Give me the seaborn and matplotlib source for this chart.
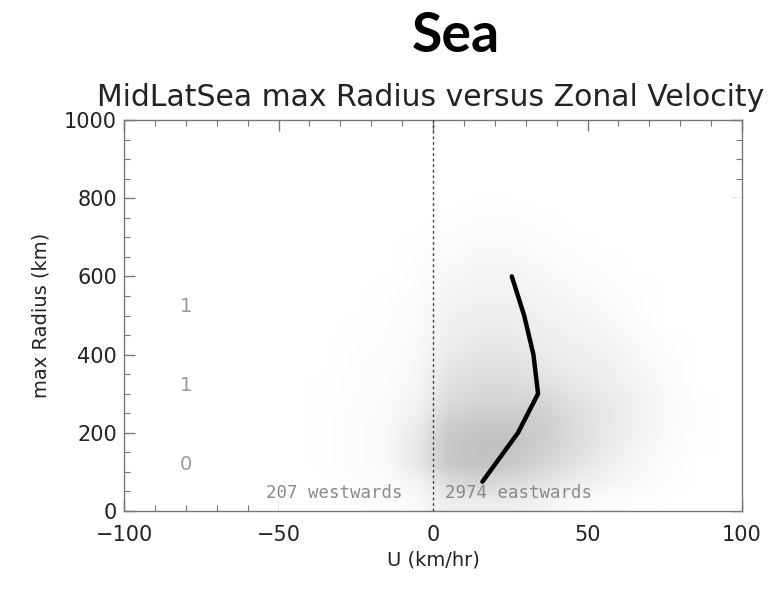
import numpy as np
import pandas as pd
import matplotlib
matplotlib.use("Agg")
import matplotlib.pyplot as plt
from matplotlib.colors import LinearSegmentedColormap
import seaborn as sns

# ---- data ----
# binned mean zonal velocity per radius (black curve)
curve_radius = [75, 200, 300, 400, 500, 600]
curve_u = [16, 27.5, 34, 32.5, 29.5, 25.5]

# relative point density of the scatter cloud (estimated), 10 km/hr x 50 km cells
dens_x_edges = list(range(-50, 101, 10))
dens_y_edges = list(range(0, 801, 50))
dens_rows = [
    [0, 0, 0.2, 0.5, 1, 3, 3, 3, 2, 1, 0.5, 0.2, 0, 0, 0],        # 0-50
    [0, 0, 0.3, 0.6, 2, 6, 7, 6, 5, 3, 2, 1, 0.3, 0, 0],          # 50-100
    [0, 0.1, 0.5, 1, 4, 9, 10, 9, 7, 5, 3, 1.5, 0.5, 0, 0],       # 100-150
    [0, 0.1, 0.5, 1, 4, 9, 10, 10, 8, 6, 4, 2, 0.8, 0.2, 0],      # 150-200
    [0, 0.1, 0.5, 1, 3, 8, 9, 9, 8, 6, 4, 2.5, 1, 0.2, 0],        # 200-250
    [0, 0.1, 0.4, 0.8, 2, 6, 7, 7, 7, 5, 4, 2.5, 1, 0.2, 0],      # 250-300
    [0, 0.1, 0.3, 0.6, 1.5, 5, 6, 6, 5, 4, 3, 2, 0.8, 0, 0],      # 300-350
    [0, 0, 0.3, 0.5, 1.2, 4, 5, 5, 4, 3, 2.5, 1.5, 0.5, 0, 0],    # 350-400
    [0, 0, 0.2, 0.4, 1, 3, 4, 4, 3, 2.5, 2, 1, 0.3, 0, 0],        # 400-450
    [0, 0, 0.1, 0.3, 0.8, 2.5, 3, 3, 2.5, 2, 1.5, 0.5, 0, 0, 0],  # 450-500
    [0, 0, 0, 0.2, 0.6, 2, 2.5, 2.5, 2, 1.5, 1, 0.3, 0, 0, 0],    # 500-550
    [0, 0, 0, 0.1, 0.4, 1.5, 2, 2, 1.5, 1, 0.5, 0.2, 0, 0, 0],    # 550-600
    [0, 0, 0, 0, 0.3, 1, 1.5, 1.5, 1, 0.5, 0.3, 0, 0, 0, 0],      # 600-650
    [0, 0, 0, 0, 0.2, 0.5, 1, 1, 0.5, 0.3, 0, 0, 0, 0, 0],        # 650-700
    [0, 0, 0, 0, 0, 0.3, 0.5, 0.5, 0.3, 0, 0, 0, 0, 0, 0],        # 700-750
    [0, 0, 0, 0, 0, 0, 0.2, 0.2, 0, 0, 0, 0, 0, 0, 0],            # 750-800
]

# side annotations
side_labels = ["1", "1", "0"]
side_label_y = [524, 320, 118]
side_label_x = -80
west_count = 207
east_count = 2974

x_ticks = [-100, -50, 0, 50, 100]
y_ticks = [0, 200, 400, 600, 800, 1000]

# ---- drawing ----
sns.set_style("ticks")
plt.rcParams["font.family"] = ["DejaVu Sans"]

fig = plt.figure(figsize=(7.70, 5.89), dpi=100)
W, H = 770, 589
ax = fig.add_axes([124 / W, 1 - 511 / H, (742 - 124) / W, (511 - 120) / H])

cmap = LinearSegmentedColormap.from_list("cloud", ["#ffffff", "#c2c2c2"])
dens = np.array(dens_rows, dtype=float)
ax.imshow(dens, origin="lower", cmap=cmap, vmin=0, vmax=10,
          extent=[dens_x_edges[0], dens_x_edges[-1], dens_y_edges[0], dens_y_edges[-1]],
          interpolation="bilinear", aspect="auto", zorder=1)

df = pd.DataFrame({"u": curve_u, "r": curve_radius})
sns.lineplot(data=df, x="u", y="r", sort=False, color="black", linewidth=3.2,
             ax=ax, zorder=4)

ax.axvline(0, color="#444444", linestyle=(0, (2, 2)), linewidth=1.0, zorder=3)

for lab, yy in zip(side_labels, side_label_y):
    ax.text(side_label_x, yy, lab, color="#9a9a9a", fontsize=14,
            ha="center", va="center", zorder=5)

ax.text(-10, 46, f"{west_count} westwards", color="#8a8a8a", fontsize=12.5,
        ha="right", va="center", family="DejaVu Sans Mono", zorder=5)
ax.text(4, 46, f"{east_count} eastwards", color="#8a8a8a", fontsize=12.5,
        ha="left", va="center", family="DejaVu Sans Mono", zorder=5)

ax.set_xlim(-100, 100)
ax.set_ylim(0, 1000)
ax.set_xticks(x_ticks)
ax.set_yticks(y_ticks)
ax.set_xticks(np.arange(-100, 101, 10), minor=True)
ax.set_yticks(np.arange(0, 1001, 50), minor=True)
ax.tick_params(which="both", direction="in", top=True, right=True,
               colors="#777777", labelcolor="#222222", labelsize=15)
ax.tick_params(which="major", length=8, width=1)
ax.tick_params(which="minor", length=4, width=0.8)
ax.tick_params(axis="x", pad=10)
ax.tick_params(axis="y", pad=5)
for s in ax.spines.values():
    s.set_visible(True)
    s.set_color("#777777")
    s.set_linewidth(1.0)

ax.set_xlabel("U (km/hr)", fontsize=14, color="#222222", labelpad=4)
ax.set_ylabel("max Radius (km)", fontsize=14, color="#222222", labelpad=10)

fig.text(431 / W, 1 - 97 / H, "MidLatSea max Radius versus Zonal Velocity",
         fontsize=21.5, color="#222222", ha="center", va="center")
fig.text(456 / W, 1 - 36 / H, "Sea", fontsize=40, fontweight="bold",
         family="Lato", color="black", ha="center", va="center")

fig.savefig("out.png", dpi=100, facecolor="white")
